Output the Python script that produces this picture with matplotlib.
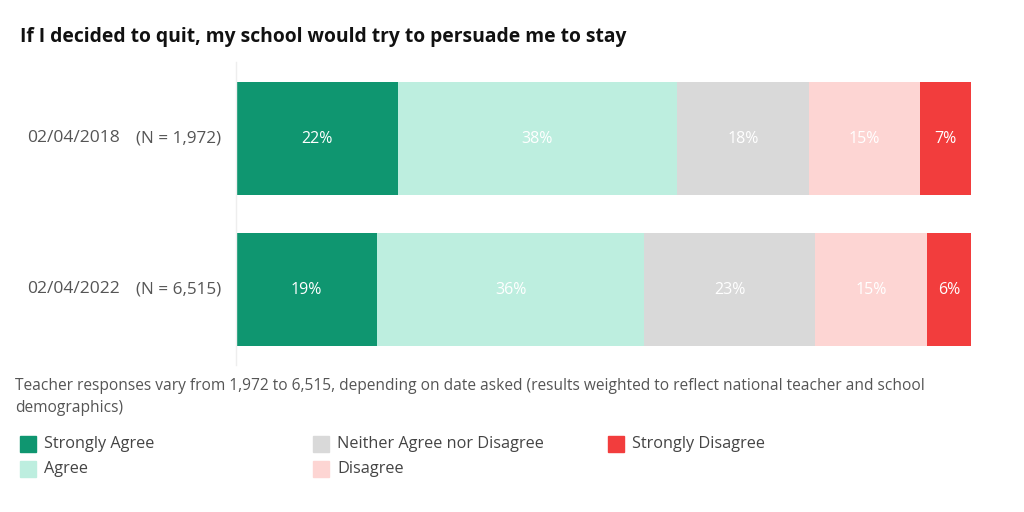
import numpy as np
import matplotlib.pyplot as plt
from matplotlib.patches import Rectangle

dates = ['02/04/2018', '02/04/2022']
sizes = ['(N = 1,972)', '(N = 6,515)']
categories = ['Strongly Agree', 'Agree', 'Neither Agree nor Disagree', 'Disagree', 'Strongly Disagree']
colors = ['#0f9670', '#bdeedf', '#d9d9d9', '#fdd5d3', '#f23d3d']
values = np.array([[22, 38, 18, 15, 7],
                   [19, 36, 23, 15, 6]])

plt.rcParams['font.family'] = ['Open Sans', 'DejaVu Sans']

fig = plt.figure(figsize=(10.24, 5.12), dpi=100)
ax = fig.add_axes([0.2305, 0.287, 0.7178, 0.592])

shares = values / values.sum(axis=1, keepdims=True) * 100
left = np.zeros(len(dates))
for i, cat in enumerate(categories):
    ax.barh(np.arange(len(dates)), shares[:, i], left=left, height=0.748,
            color=colors[i], label=cat)
    for j in range(len(dates)):
        ax.text(left[j] + shares[j, i] / 2, j, f'{values[j, i]}%', ha='center', va='center',
                color='white', fontsize=11.5)
    left += shares[:, i]

ax.set_xlim(0, 100)
ax.set_ylim(1.5, -0.507)
ax.set_xticks([])
ax.set_yticks([])
for s in ['top', 'right', 'bottom']:
    ax.spines[s].set_visible(False)
ax.spines['left'].set_color('#eeeeee')
ax.spines['left'].set_linewidth(1)

for j in range(len(dates)):
    y = 0.879 - (138.5 + 151 * j - 62) / 512
    fig.text(27 / 1024, y, dates[j], ha='left', va='center', fontsize=12.6, color='#555555')
    fig.text(221 / 1024, y, sizes[j], ha='right', va='center', fontsize=12.3, color='#555555')

fig.text(20 / 1024, 1 - 37 / 512, 'If I decided to quit, my school would try to persuade me to stay',
         ha='left', va='center', fontsize=13.85, fontweight='bold', color='#111111')

fig.text(15 / 1024, 1 - 386 / 512, 'Teacher responses vary from 1,972 to 6,515, depending on date asked '
         '(results weighted to reflect national teacher and school', ha='left', va='center',
         fontsize=11.2, color='#555555')
fig.text(15 / 1024, 1 - 408 / 512, 'demographics)', ha='left', va='center', fontsize=11.2, color='#555555')

cols = [20, 20, 313, 313, 608]
rows = [444, 469, 444, 469, 444]
for i, cat in enumerate(categories):
    fig.patches.append(Rectangle((cols[i] / 1024, 1 - (rows[i] + 8) / 512), 16 / 1024, 16 / 512,
                                 transform=fig.transFigure, color=colors[i]))
    fig.text((cols[i] + 24) / 1024, 1 - rows[i] / 512, cat, ha='left', va='center',
             fontsize=11.7, color='#444444')

fig.savefig('out.png', dpi=100)
